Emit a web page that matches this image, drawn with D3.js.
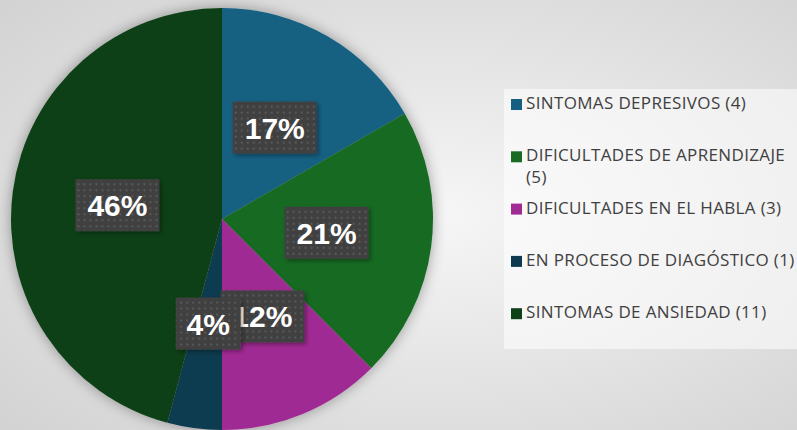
<!DOCTYPE html>
<html>
<head>
<meta charset="utf-8">
<script src="https://cdn.jsdelivr.net/npm/d3@7"></script>
<style>
  html, body { margin: 0; padding: 0; overflow: hidden; }
  body { width: 797px; height: 430px; }
</style>
</head>
<body>
<div id="chart"></div>
<script>
var categories = ['SINTOMAS DEPRESIVOS', 'DIFICULTADES DE APRENDIZAJE', 'DIFICULTADES EN EL HABLA',
                  'EN PROCESO DE DIAGÓSTICO', 'SINTOMAS DE ANSIEDAD'];
var counts = [4, 5, 3, 1, 11];
var percentLabels = ['17%', '21%', '12%', '4%', '46%'];
var colors = ['#156082', '#196b24', '#a02b93', '#0e3a50', '#0f4118'];

var width = 797,
    height = 430,
    cx = 222,
    cy = 219,
    radius = 211;

var svg = d3.select('#chart').append('svg')
  .attr('width', width)
  .attr('height', height);

var defs = svg.append('defs');

var bg = defs.append('radialGradient')
  .attr('id', 'bg')
  .attr('cx', '55%').attr('cy', '50%').attr('r', '75%');
bg.append('stop').attr('offset', '0%').attr('stop-color', '#f6f6f6');
bg.append('stop').attr('offset', '100%').attr('stop-color', '#d2d2d2');

var pat = defs.append('pattern')
  .attr('id', 'dots')
  .attr('width', 6).attr('height', 6)
  .attr('patternUnits', 'userSpaceOnUse');
pat.append('rect').attr('width', 6).attr('height', 6).attr('fill', '#404040');
pat.append('rect').attr('x', 2).attr('y', 2).attr('width', 2).attr('height', 2).attr('fill', '#595959');

var pieShadow = defs.append('filter')
  .attr('id', 'pieShadow')
  .attr('x', '-20%').attr('y', '-20%').attr('width', '140%').attr('height', '140%');
pieShadow.append('feDropShadow')
  .attr('dx', 0).attr('dy', 0).attr('stdDeviation', 7)
  .attr('flood-color', '#000').attr('flood-opacity', 0.35);

var boxShadow = defs.append('filter')
  .attr('id', 'boxShadow')
  .attr('x', '-20%').attr('y', '-20%').attr('width', '150%').attr('height', '150%');
boxShadow.append('feDropShadow')
  .attr('dx', 2).attr('dy', 2).attr('stdDeviation', 2)
  .attr('flood-color', '#000').attr('flood-opacity', 0.35);

svg.append('rect')
  .attr('width', width).attr('height', height)
  .attr('fill', 'url(#bg)');

// pie
var pie = d3.pie().sort(null).value(function(d) { return d; });
var arcs = pie(counts);

var arc = d3.arc().innerRadius(0).outerRadius(radius);
var labelArc = d3.arc().innerRadius(radius * 0.5).outerRadius(radius * 0.5);

var g = svg.append('g')
  .attr('transform', 'translate(' + cx + ',' + cy + ')');

g.append('g')
  .attr('filter', 'url(#pieShadow)')
  .selectAll('path').data(arcs)
  .enter().append('path')
    .attr('d', arc)
    .attr('fill', function(d, i) { return colors[i]; });

// data labels
var labels = g.selectAll('g.lbl').data(arcs)
  .enter().append('g')
    .attr('class', 'lbl')
    .attr('transform', function(d) {
      var c = labelArc.centroid(d);
      return 'translate(' + c[0] + ',' + c[1] + ')';
    });

labels.each(function(d, i) {
  var sel = d3.select(this);
  var boxW = percentLabels[i].length * 19 + 27;
  sel.append('rect')
    .attr('x', -boxW / 2).attr('y', -26)
    .attr('width', boxW).attr('height', 52)
    .attr('fill', 'url(#dots)')
    .attr('filter', 'url(#boxShadow)');
  sel.append('text')
    .attr('text-anchor', 'middle')
    .attr('y', 11)
    .attr('fill', '#ffffff')
    .style('font-family', '"Liberation Sans", Arial, sans-serif')
    .style('font-weight', 'bold')
    .style('font-size', '30px')
    .text(percentLabels[i]);
});

// legend
var legend = svg.append('g');

legend.append('rect')
  .attr('x', 504).attr('y', 89)
  .attr('width', 300).attr('height', 260)
  .attr('fill', '#ffffff')
  .attr('fill-opacity', 0.55);

var items = legend.selectAll('g.item').data(categories)
  .enter().append('g')
    .attr('class', 'item')
    .attr('transform', function(d, i) {
      return 'translate(511,' + (109 + i * 52.3) + ')';
    });

items.append('rect')
  .attr('x', 0).attr('y', -10)
  .attr('width', 11).attr('height', 11)
  .attr('fill', function(d, i) { return colors[i]; });

items.each(function(d, i) {
  var t = d3.select(this).append('text')
    .attr('x', 15)
    .attr('fill', '#404040')
    .style('font-family', '"Open Sans", sans-serif')
    .style('font-size', '17px')
    .style('letter-spacing', '0.35px');
  var full = d + ' (' + counts[i] + ')';
  t.text(full);
  if (t.node().getComputedTextLength() > 280) {
    t.text(null);
    t.append('tspan').attr('x', 15).text(d);
    t.append('tspan').attr('x', 15).attr('dy', 22).text('(' + counts[i] + ')');
  }
});
</script>
</body>
</html>
